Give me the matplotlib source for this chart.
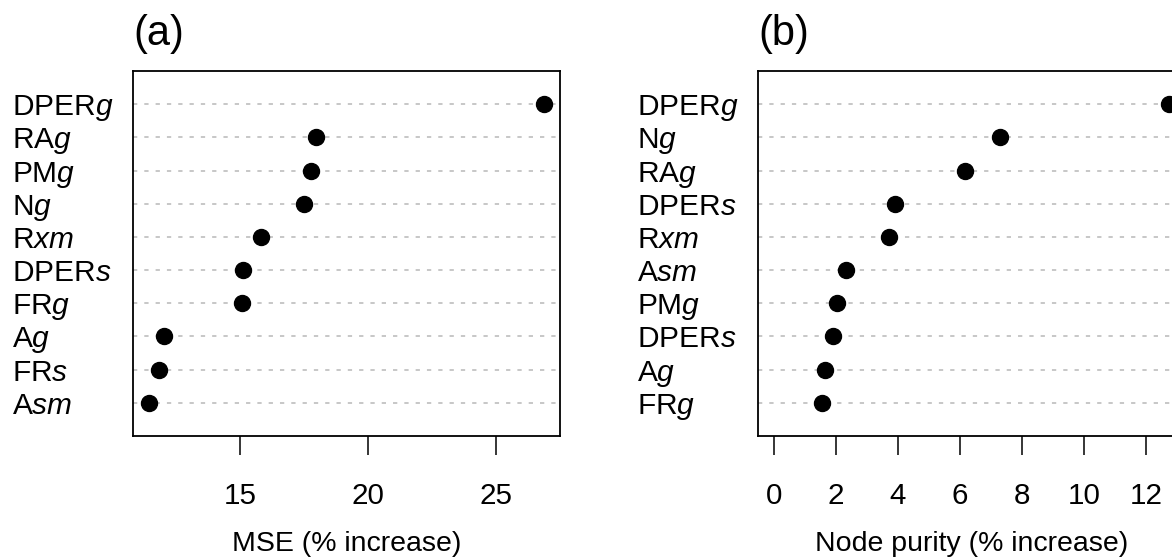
import matplotlib
matplotlib.use("Agg")
import matplotlib.pyplot as plt

plt.rcParams['font.family'] = ['Liberation Sans', 'DejaVu Sans']
plt.rcParams['mathtext.fontset'] = 'custom'
plt.rcParams['mathtext.rm'] = 'Liberation Sans'
plt.rcParams['mathtext.it'] = 'Liberation Sans:italic'

# Panel (a): MSE, top to bottom
labels_a = [r'DPER$\mathit{g}$', r'RA$\mathit{g}$', r'PM$\mathit{g}$', r'N$\mathit{g}$',
            r'R$\mathit{xm}$', r'DPER$\mathit{s}$', r'FR$\mathit{g}$', r'A$\mathit{g}$',
            r'FR$\mathit{s}$', r'A$\mathit{sm}$']
mse = [26.86, 17.95, 17.76, 17.50, 15.81, 15.13, 15.09, 12.04, 11.84, 11.45]
ticks_a = [15, 20, 25]

# Panel (b): node purity, top to bottom
labels_b = [r'DPER$\mathit{g}$', r'N$\mathit{g}$', r'RA$\mathit{g}$', r'DPER$\mathit{s}$',
            r'R$\mathit{xm}$', r'A$\mathit{sm}$', r'PM$\mathit{g}$', r'DPER$\mathit{s}$',
            r'A$\mathit{g}$', r'FR$\mathit{g}$']
purity = [12.75, 7.28, 6.18, 3.90, 3.70, 2.32, 2.03, 1.92, 1.65, 1.56]
ticks_b = [0, 2, 4, 6, 8, 10, 12]

fig = plt.figure(figsize=(11.72, 5.6), dpi=100)
ax1 = fig.add_axes([0.1135, 0.2214, 0.3643, 0.6518])
ax2 = fig.add_axes([0.6468, 0.2214, 0.3643, 0.6518])


def dotchart(ax, labels, values, ticks, title, xlabel, lo=None):
    n = len(values)
    ypos = list(range(n, 0, -1))
    if lo is None:
        lo = min(values)
    hi = max(values)
    r = hi - lo
    ax.set_xlim(lo - 0.04 * r, hi + 0.04 * r)
    ax.set_ylim(0, n + 1)
    for y in ypos:
        ax.axhline(y, color='#b8b8b8', lw=1.1, dashes=(2.8, 4.6), zorder=1)
    ax.plot(values, ypos, 'o', color='black', markersize=11.5, zorder=3, clip_on=False)
    ax.set_yticks(ypos)
    ax.set_yticklabels(labels, fontsize=21.5, ha='left')
    ax.tick_params(axis='y', length=0, pad=87)
    ax.set_xticks(ticks)
    ax.set_xticklabels([str(t) for t in ticks], fontsize=21.3)
    ax.tick_params(axis='x', length=13.7, width=1.1, pad=19.5)
    ax.set_xlabel(xlabel, fontsize=20.5, labelpad=15)
    ax.set_title(title, loc='left', fontsize=30, pad=18.5)
    for s in ax.spines.values():
        s.set_linewidth(1.3)


dotchart(ax1, labels_a, mse, ticks_a, '(a)', 'MSE (% increase)')
dotchart(ax2, labels_b, purity, ticks_b, '(b)', 'Node purity (% increase)', lo=0)

fig.savefig('out.png', dpi=100)
